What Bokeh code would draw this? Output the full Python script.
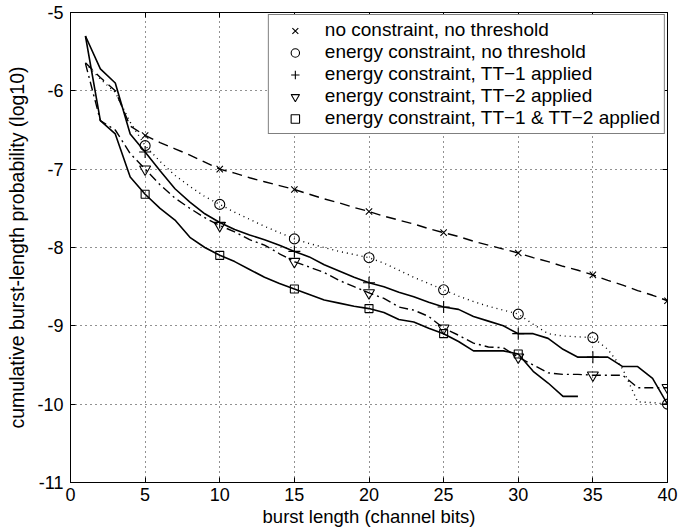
from bokeh.plotting import figure
from bokeh.models import (Legend, LegendItem, LinearAxis, FixedTicker,
                          CustomJSTickFormatter, Range1d)
from bokeh.embed import file_html
from bokeh.resources import INLINE

# ---------------- data ----------------
bursts = list(range(1, 41))
bursts_tt12 = list(range(1, 35))

no_constraint = [-5.64, -5.83, -6.00, -6.45, -6.57, -6.66, -6.74, -6.82, -6.91, -7.00,
                 -7.05, -7.11, -7.16, -7.21, -7.26, -7.32, -7.38, -7.43, -7.49, -7.54,
                 -7.60, -7.65, -7.70, -7.76, -7.81, -7.86, -7.92, -7.97, -8.02, -8.07,
                 -8.13, -8.18, -8.24, -8.29, -8.35, -8.42, -8.48, -8.55, -8.61, -8.68]

energy_no_threshold = [-5.65, -5.85, -6.02, -6.40, -6.70, -6.90, -7.08, -7.22, -7.35, -7.45,
                       -7.55, -7.64, -7.73, -7.81, -7.89, -7.95, -8.00, -8.05, -8.09, -8.13,
                       -8.20, -8.29, -8.38, -8.46, -8.54, -8.62, -8.69, -8.75, -8.80, -8.85,
                       -8.98, -9.10, -9.13, -9.14, -9.15, -9.30, -9.55, -9.97, -9.98, -10.00]

energy_tt1 = [-5.30, -5.72, -5.90, -6.55, -6.78, -7.02, -7.25, -7.42, -7.57, -7.68,
              -7.77, -7.84, -7.90, -7.97, -8.05, -8.12, -8.22, -8.30, -8.38, -8.45,
              -8.50, -8.57, -8.63, -8.70, -8.76, -8.79, -8.88, -8.94, -9.00, -9.10,
              -9.10, -9.16, -9.30, -9.40, -9.40, -9.40, -9.52, -9.52, -9.67, -10.00]

energy_tt2 = [-5.65, -6.38, -6.50, -6.80, -7.00, -7.20, -7.37, -7.50, -7.62, -7.72,
              -7.80, -7.90, -7.97, -8.08, -8.18, -8.25, -8.32, -8.42, -8.50, -8.58,
              -8.65, -8.76, -8.80, -8.88, -9.03, -9.12, -9.22, -9.27, -9.28, -9.40,
              -9.50, -9.60, -9.62, -9.62, -9.63, -9.63, -9.63, -9.79, -9.79, -9.79]

energy_tt12 = [-5.30, -6.38, -6.55, -7.10, -7.32, -7.50, -7.65, -7.87, -8.00, -8.10,
               -8.18, -8.28, -8.38, -8.46, -8.53, -8.60, -8.67, -8.71, -8.75, -8.78,
               -8.83, -8.92, -8.95, -9.03, -9.10, -9.20, -9.32, -9.32, -9.32, -9.36,
               -9.58, -9.73, -9.90, -9.90]

series_labels = ["no constraint, no threshold",
                 "energy constraint, no threshold",
                 "energy constraint, TT\u22121 applied",
                 "energy constraint, TT\u22122 applied",
                 "energy constraint, TT\u22121 & TT\u22122 applied"]

x_ticks = [0, 5, 10, 15, 20, 25, 30, 35, 40]
x_tick_labels = ["0", "5", "10", "15", "20", "25", "30", "35", "40"]
y_ticks = [-11, -10, -9, -8, -7, -6, -5]
y_tick_labels = ["-11", "-10", "-9", "-8", "-7", "-6", "-5"]

x_label = "burst length (channel bits)"
y_label = "cumulative burst-length probability (log10)"

# ---------------- figure ----------------
FONT = "Liberation Sans"
p = figure(width=689, height=529, x_range=Range1d(0, 40), y_range=Range1d(-11, -5),
           output_backend="svg", toolbar_location=None,
           min_border_left=70, min_border_right=22, min_border_top=12, min_border_bottom=47)
p.background_fill_color = "white"
p.border_fill_color = "white"
p.outline_line_color = "black"
p.outline_line_width = 1

xa = p.below[0]
ya = p.left[0]
xa.ticker = FixedTicker(ticks=x_ticks)
xa.major_label_overrides = {t: l for t, l in zip(x_ticks, x_tick_labels)}
ya.ticker = FixedTicker(ticks=y_ticks)
ya.major_label_overrides = {t: l for t, l in zip(y_ticks, y_tick_labels)}
for ax in (xa, ya):
    ax.major_tick_in = 5
    ax.major_tick_out = 0
    ax.minor_tick_line_color = None
    ax.axis_line_color = "black"
    ax.major_tick_line_color = "black"
    ax.major_label_text_font = FONT
    ax.major_label_text_font_size = "18px"
    ax.major_label_text_color = "black"
    ax.axis_label_text_font = FONT
    ax.axis_label_text_font_style = "normal"
    ax.axis_label_text_color = "black"
xa.axis_label_text_font_size = "18.5px"
ya.axis_label_text_font_size = "19.5px"
xa.axis_label = x_label
ya.axis_label = y_label
xa.major_label_standoff = 5
xa.axis_label_standoff = 2
ya.major_label_standoff = 7
ya.axis_label_standoff = 6

for loc, ticks in (("right", y_ticks), ("above", x_ticks)):
    ax = LinearAxis(ticker=FixedTicker(ticks=ticks),
                    formatter=CustomJSTickFormatter(code="return ''"),
                    major_tick_in=5, major_tick_out=0, minor_tick_line_color=None,
                    axis_line_color="black", major_tick_line_color="black",
                    major_label_standoff=0)
    p.add_layout(ax, loc)

for g, t in ((p.xgrid[0], x_ticks), (p.ygrid[0], y_ticks)):
    g.ticker = FixedTicker(ticks=t)
    g.grid_line_color = "#222222"
    g.grid_line_dash = "1 4"
    g.grid_line_width = 1
    g.grid_line_alpha = 1

# ---------------- series ----------------
specs = [
    (bursts, no_constraint, "10 6", 1.4, "x", 9),
    (bursts, energy_no_threshold, "1 4", 1.4, "circle", 10),
    (bursts, energy_tt1, "solid", 1.6, "cross", 12),
    (bursts, energy_tt2, "9 4 2 4", 1.4, "inverted_triangle", 11),
    (bursts_tt12, energy_tt12, "solid", 1.6, "square", 8),
]

items = []
for (xs, ys, dash, lw, marker, size), label in zip(specs, series_labels):
    p.line(xs, ys, line_color="black", line_width=lw, line_dash=dash)
    mx = [x for x in xs if x % 5 == 0]
    my = [y for x, y in zip(xs, ys) if x % 5 == 0]
    r = p.scatter(mx, my, marker=marker, size=size, line_color="black",
                  fill_color=None, line_width=1.1)
    items.append(LegendItem(label=label, renderers=[r]))

legend = Legend(items=items, location="top_right")
legend.margin = 2
legend.padding = 4
legend.spacing = 0
legend.glyph_width = 44
legend.glyph_height = 21
legend.label_height = 22
legend.label_standoff = 8
legend.label_text_font = FONT
legend.label_text_font_size = "19px"
legend.label_text_color = "black"
legend.border_line_color = "black"
legend.border_line_width = 1
legend.background_fill_color = "white"
legend.background_fill_alpha = 1
p.add_layout(legend)

open("out.html", "w").write(file_html(p, INLINE))
